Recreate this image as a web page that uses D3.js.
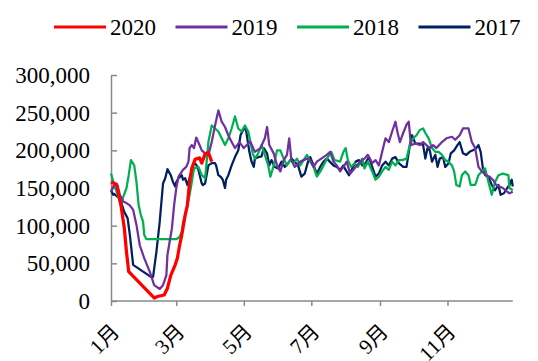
<!DOCTYPE html>
<html>
<head>
<meta charset="utf-8">
<script src="https://cdn.jsdelivr.net/npm/d3@7"></script>
<style>
  body { margin: 0; background: #fff; }
  text { font-family: "Liberation Serif", "Noto Sans CJK SC", serif; }
</style>
</head>
<body>
<script>
// day of year (0 = 1月1日), value
const s2020 = [[0,158000],[5,155000],[9,127000],[12,97000],[14,65000],[16,39000],[39,4000],[42,6000],[48,8000],[51,17000],[54,34000],[58,48000],[60,57000],[62,74000],[64,88000],[67,114000],[69,127000],[71,158000],[73,176000],[76,188000],[80,190000],[82,183000],[85,195000],[88,197000],[91,185000]];

const s2019 = [[0,145000],[3,155000],[6,153000],[8,141000],[11,132000],[14,130000],[17,127000],[20,121000],[23,101000],[26,74000],[30,57000],[35,39000],[39,21000],[44,16000],[47,21000],[50,34000],[51,61000],[53,79000],[55,96000],[57,127000],[59,150000],[61,165000],[65,174000],[68,178000],[70,185000],[71,203000],[73,207000],[75,203000],[77,217000],[80,207000],[82,200000],[85,196000],[88,194000],[91,211000],[94,233000],[97,253000],[100,238000],[103,231000],[106,220000],[109,211000],[112,203000],[116,211000],[120,203000],[124,209000],[126,211000],[130,198000],[135,203000],[139,216000],[141,231000],[143,207000],[147,196000],[150,180000],[153,172000],[156,187000],[159,194000],[161,216000],[163,187000],[166,178000],[171,185000],[177,189000],[180,187000],[183,178000],[186,185000],[190,189000],[195,194000],[198,198000],[201,185000],[204,180000],[207,172000],[210,178000],[213,185000],[216,169000],[220,176000],[225,185000],[229,189000],[232,194000],[236,183000],[239,187000],[242,180000],[245,198000],[248,216000],[251,211000],[254,225000],[257,238000],[259,223000],[261,211000],[264,223000],[267,234000],[269,238000],[271,207000],[275,209000],[279,207000],[282,211000],[285,207000],[288,203000],[291,207000],[294,203000],[299,211000],[303,216000],[308,218000],[311,214000],[315,220000],[318,229000],[323,229000],[326,211000],[329,203000],[332,178000],[335,172000],[339,167000],[342,165000],[345,161000],[348,154000],[351,152000],[354,150000],[358,145000],[360,143000],[363,145000]];

const s2018 = [[0,169000],[3,154000],[6,141000],[9,127000],[11,138000],[14,150000],[16,167000],[18,187000],[21,180000],[23,158000],[25,127000],[27,114000],[29,105000],[30,88000],[32,82000],[59,82000],[62,85000],[64,92000],[65,103000],[67,114000],[69,127000],[71,141000],[73,158000],[75,176000],[79,178000],[82,167000],[85,163000],[86,178000],[88,211000],[91,233000],[94,229000],[97,225000],[100,216000],[103,207000],[106,216000],[109,229000],[112,245000],[115,229000],[118,225000],[121,233000],[124,225000],[126,211000],[128,196000],[130,189000],[133,196000],[136,207000],[139,194000],[142,180000],[144,165000],[147,180000],[150,200000],[153,200000],[156,189000],[159,180000],[162,187000],[165,183000],[168,189000],[171,180000],[174,187000],[177,194000],[180,185000],[183,178000],[186,165000],[190,174000],[193,183000],[196,191000],[199,198000],[202,187000],[207,185000],[210,198000],[212,203000],[214,187000],[217,178000],[220,183000],[223,178000],[227,189000],[229,176000],[232,185000],[236,172000],[239,161000],[242,165000],[245,172000],[248,178000],[251,174000],[254,185000],[257,180000],[260,187000],[263,187000],[267,189000],[270,207000],[273,216000],[276,220000],[279,227000],[282,229000],[284,223000],[287,216000],[290,203000],[293,198000],[296,198000],[299,194000],[302,187000],[305,185000],[308,180000],[310,172000],[312,154000],[315,152000],[317,167000],[320,172000],[323,167000],[325,154000],[329,154000],[332,167000],[335,172000],[338,176000],[341,158000],[344,141000],[347,158000],[350,167000],[354,169000],[359,167000],[360,150000],[363,147000]];

const s2017 = [[0,147000],[2,141000],[3,142000],[6,138000],[7,141000],[9,132000],[12,118000],[15,110000],[17,88000],[20,48000],[27,41000],[36,32000],[38,32000],[41,65000],[44,105000],[47,156000],[49,163000],[51,175000],[54,167000],[56,158000],[58,152000],[59,158000],[61,163000],[64,167000],[65,161000],[67,163000],[69,154000],[71,163000],[73,174000],[75,183000],[77,181000],[79,174000],[82,156000],[83,154000],[85,156000],[88,180000],[91,183000],[94,183000],[95,180000],[97,167000],[99,165000],[101,161000],[103,150000],[104,161000],[106,167000],[109,180000],[112,191000],[115,200000],[117,220000],[120,229000],[122,227000],[125,198000],[127,185000],[129,178000],[130,189000],[133,191000],[136,192000],[138,203000],[141,196000],[143,180000],[145,187000],[148,178000],[151,176000],[154,185000],[157,178000],[160,183000],[163,189000],[166,185000],[169,180000],[172,165000],[175,169000],[178,185000],[180,191000],[183,180000],[186,169000],[189,178000],[192,185000],[195,189000],[199,183000],[201,180000],[204,178000],[207,174000],[210,180000],[212,174000],[215,167000],[218,176000],[221,185000],[224,187000],[227,180000],[230,183000],[233,191000],[236,178000],[239,165000],[242,169000],[245,180000],[248,185000],[251,180000],[254,189000],[257,191000],[260,183000],[264,178000],[267,178000],[270,207000],[272,220000],[275,209000],[279,209000],[282,207000],[284,189000],[286,203000],[288,200000],[290,185000],[293,194000],[295,178000],[297,189000],[300,191000],[302,178000],[305,183000],[307,196000],[310,200000],[313,207000],[315,211000],[318,196000],[321,194000],[324,198000],[327,200000],[330,203000],[332,207000],[334,198000],[336,176000],[338,167000],[341,165000],[344,154000],[347,147000],[350,154000],[352,141000],[355,143000],[358,150000],[360,154000],[362,161000],[363,152000]];

const monthDays = [0, 59, 120, 181, 243, 304];
const monthLabels = ["1月", "3月", "5月", "7月", "9月", "11月"];
const yTicks = [0, 50000, 100000, 150000, 200000, 250000, 300000];

const series = [
  { name: "2020", data: s2020, color: "#FF0000", w: 3.25 },
  { name: "2019", data: s2019, color: "#7030A0", w: 2.25 },
  { name: "2018", data: s2018, color: "#00B050", w: 2.25 },
  { name: "2017", data: s2017, color: "#002060", w: 2.25 }
];

const width = 538, height = 361;

const svg = d3.select("body").append("svg")
  .attr("width", width)
  .attr("height", height)
  .style("background", "#fff");

const x = d3.scaleLinear().domain([0, 365]).range([111, 515]);
const y = d3.scaleLinear().domain([0, 300000]).range([301, 75]);

const axisColor = "#898989";

// y axis
const yAxis = svg.append("g")
  .attr("transform", "translate(111,0)")
  .call(d3.axisLeft(y).tickValues(yTicks).tickSize(-6).tickSizeOuter(0)
    .tickPadding(21).tickFormat(d3.format(",")));
yAxis.select(".domain").attr("stroke", axisColor).attr("stroke-width", 1.5);
yAxis.selectAll(".tick line").attr("stroke", axisColor).attr("stroke-width", 1.5);
yAxis.selectAll(".tick text").attr("font-size", "23px").attr("fill", "#000")
  .attr("font-family", "Liberation Serif");

// x axis
const xAxis = svg.append("g")
  .attr("transform", "translate(0,301)")
  .call(d3.axisBottom(x).tickValues(monthDays).tickSize(5).tickSizeOuter(0)
    .tickFormat((d, i) => monthLabels[i]));
xAxis.select(".domain").remove();
xAxis.append("line")
  .attr("x1", x(0)).attr("x2", x(363))
  .attr("stroke", axisColor).attr("stroke-width", 1.5);
xAxis.selectAll(".tick line").attr("stroke", axisColor).attr("stroke-width", 1.5);
xAxis.selectAll(".tick text")
  .attr("font-size", "21px").attr("fill", "#000")
  .attr("text-anchor", "end")
  .attr("dy", null)
  .attr("y", null)
  .attr("transform", "translate(9,32) rotate(-45)");

// lines, oldest first so 2020 sits on top
const line = d3.line()
  .x(d => x(d[0]))
  .y(d => y(d[1]));

series.slice().reverse().forEach(s => {
  svg.append("path")
    .datum(s.data)
    .attr("fill", "none")
    .attr("stroke", s.color)
    .attr("stroke-width", s.w)
    .attr("stroke-linejoin", "round")
    .attr("d", line);
});

// legend
const legend = svg.append("g").attr("transform", "translate(54,27)");
series.forEach((s, i) => {
  const lg = legend.append("g").attr("transform", `translate(${i * 121.5},0)`);
  lg.append("line")
    .attr("x1", 0).attr("x2", 52)
    .attr("stroke", s.color).attr("stroke-width", 3);
  lg.append("text")
    .attr("x", 56)
    .attr("y", 8)
    .attr("font-size", "23px")
    .attr("fill", "#000")
    .text(s.name);
});
</script>
</body>
</html>
